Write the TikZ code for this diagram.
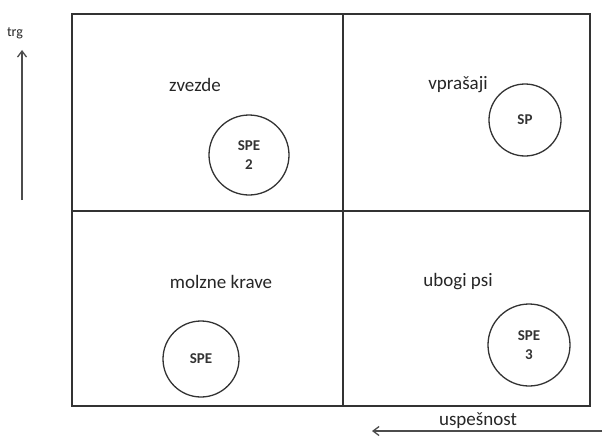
\documentclass[tikz,border=0pt]{standalone}
\usepackage{fontspec}
\setmainfont{Carlito}
\usetikzlibrary{arrows.meta}
\begin{document}
\begin{tikzpicture}[x=1pt,y=-1pt,
  lbl/.style={font=\fontsize{19}{22}\selectfont, text=black!85, inner sep=0pt},
  unit/.style={circle, draw=black!80, line width=1.3pt, minimum size=#1, inner sep=0pt, align=center, font=\fontsize{15}{19}\selectfont\bfseries, text=black!80},
  frame/.style={draw=black!80, line width=1.6pt},
  axis/.style={draw=black!70, line width=1.3pt, -{Straight Barb[length=6pt,width=9pt]}}
]
\useasboundingbox (0,0) rectangle (604,436);
\coordinate (tl) at (72,14);
\coordinate (br) at (590,406);
\draw[frame] (tl) rectangle (br);
\coordinate (vt) at (343,14);
\coordinate (vb) at (343,406);
\coordinate (hl) at (72,211);
\coordinate (hr) at (590,211);
\draw[frame] (vt) -- (vb);
\draw[frame] (hl) -- (hr);

\node[lbl] (zv) at (195,85) {zvezde};
\node[lbl] (vp) at (458,85) {vprašaji};
\node[lbl] (mk) at (221,282) {molzne krave};
\node[lbl] (up) at (458,282) {ubogi psi};

\node[unit=80pt] (c1) at (249,155) {SPE\\2};
\node[unit=72pt] (c2) at (525,120) {SP};
\node[unit=76pt] (c3) at (201,359) {SPE};
\node[unit=82pt] (c4) at (529,345) {SPE\\3};

\coordinate (ya) at (22,200);
\coordinate (yb) at (22,50);
\draw[axis] (ya) -- (yb);
\node[lbl, font=\fontsize{14}{16}\selectfont] (trg) at (15,33) {trg};

\coordinate (xa) at (602,431);
\coordinate (xb) at (372,431);
\draw[axis] (xa) -- (xb);
\node[lbl] (us) at (478,421) {uspešnost};
\end{tikzpicture}
\end{document}
